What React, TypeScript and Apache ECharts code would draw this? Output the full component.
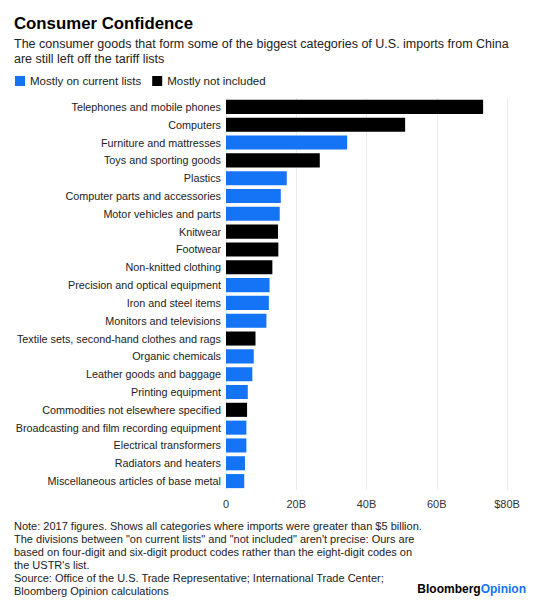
import React, { useEffect, useRef } from "react";
import * as echarts from "echarts";

const categories = [
  "Telephones and mobile phones",
  "Computers",
  "Furniture and mattresses",
  "Toys and sporting goods",
  "Plastics",
  "Computer parts and accessories",
  "Motor vehicles and parts",
  "Knitwear",
  "Footwear",
  "Non-knitted clothing",
  "Precision and optical equipment",
  "Iron and steel items",
  "Monitors and televisions",
  "Textile sets, second-hand clothes and rags",
  "Organic chemicals",
  "Leather goods and baggage",
  "Printing equipment",
  "Commodities not elsewhere specified",
  "Broadcasting and film recording equipment",
  "Electrical transformers",
  "Radiators and heaters",
  "Miscellaneous articles of base metal",
];

const values = [
  73.2, 51.0, 34.5, 26.7, 17.3, 15.6, 15.3, 14.8, 14.9, 13.2, 12.4, 12.2, 11.5,
  8.4, 7.9, 7.5, 6.2, 6.0, 5.8, 5.8, 5.4, 5.2,
];

// "on" = Mostly on current lists, "not" = Mostly not included
const groups = [
  "not", "not", "on", "not", "on", "on", "on", "not", "not", "not", "on", "on",
  "on", "not", "on", "on", "on", "not", "on", "on", "on", "on",
];

const seriesNames = ["Mostly on current lists", "Mostly not included"];
const xTicks = [0, 20, 40, 60, 80];

const title = "Consumer Confidence";
const subtitle =
  "The consumer goods that form some of the biggest categories of U.S. imports from China\nare still left off the tariff lists";
const notes =
  'Note: 2017 figures. Shows all categories where imports were greater than $5 billion.\nThe divisions between "on current lists" and "not included" aren\'t precise: Ours are\nbased on four-digit and six-digit product codes rather than the eight-digit codes on\nthe USTR\'s list.\nSource: Office of the U.S. Trade Representative; International Trade Center;\nBloomberg Opinion calculations';

const BLUE = "#1573f6";
const BLACK = "#000000";
const FONT = "Liberation Sans, Arial, sans-serif";

export default function App() {
  const ref = useRef<HTMLDivElement>(null);

  useEffect(() => {
    if (!ref.current) return;
    const chart = echarts.init(ref.current, undefined, { renderer: "svg" });

    const onData = values.map((v, i) => (groups[i] === "on" ? v : "-"));
    const notData = values.map((v, i) => (groups[i] === "not" ? v : "-"));

    chart.setOption({
      animation: false,
      backgroundColor: "#ffffff",
      textStyle: { fontFamily: FONT },
      legend: {
        left: 10,
        top: 70,
        itemWidth: 10,
        itemHeight: 10,
        itemGap: 11,
        icon: "rect",
        textStyle: { fontSize: 11.5, color: "#222", fontFamily: FONT },
        data: seriesNames,
      },
      grid: { left: 226, right: 53, top: 98, bottom: 113, containLabel: false },
      xAxis: {
        type: "value",
        min: 0,
        max: 80,
        interval: 20,
        axisLine: { show: false },
        axisTick: { show: false },
        splitLine: { lineStyle: { color: "#ebebeb", width: 1 } },
        axisLabel: {
          fontSize: 11,
          color: "#333",
          margin: 8,
          fontFamily: FONT,
          formatter: (v: number) =>
            v === 0 ? "0" : v === xTicks[xTicks.length - 1] ? `$${v}B` : `${v}B`,
        },
      },
      yAxis: {
        type: "category",
        inverse: true,
        data: categories,
        axisLine: { show: false },
        axisTick: { show: false },
        axisLabel: { fontSize: 10.8, color: "#222", margin: 5, fontFamily: FONT },
      },
      series: [
        {
          name: seriesNames[0],
          type: "bar",
          stack: "t",
          data: onData,
          barCategoryGap: "21%",
          itemStyle: { color: BLUE },
        },
        {
          name: seriesNames[1],
          type: "bar",
          stack: "t",
          data: notData,
          barCategoryGap: "21%",
          itemStyle: { color: BLACK },
        },
      ],
      graphic: [
        {
          type: "text",
          left: 14,
          top: 15,
          style: {
            text: title,
            font: `bold 16.8px ${FONT}`,
            fill: "#000",
          },
        },
        {
          type: "text",
          left: 14,
          top: 36,
          style: {
            text: subtitle,
            font: `12.5px ${FONT}`,
            lineHeight: 15,
            fill: "#222",
          },
        },
        {
          type: "text",
          left: 14,
          top: 519,
          style: {
            text: notes,
            font: `11px ${FONT}`,
            lineHeight: 13,
            fill: "#222",
          },
        },
        {
          type: "text",
          right: 34,
          top: 583,
          style: {
            text: "{a|Bloomberg}{b|Opinion}",
            rich: {
              a: { font: `bold 12px ${FONT}`, fill: "#000" },
              b: { font: `bold 12px ${FONT}`, fill: BLUE },
            },
          },
        },
      ],
    });

    return () => chart.dispose();
  }, []);

  return (
    <div
      ref={ref}
      style={{ position: "fixed", left: 0, top: 0, width: 560, height: 603 }}
    />
  );
}
